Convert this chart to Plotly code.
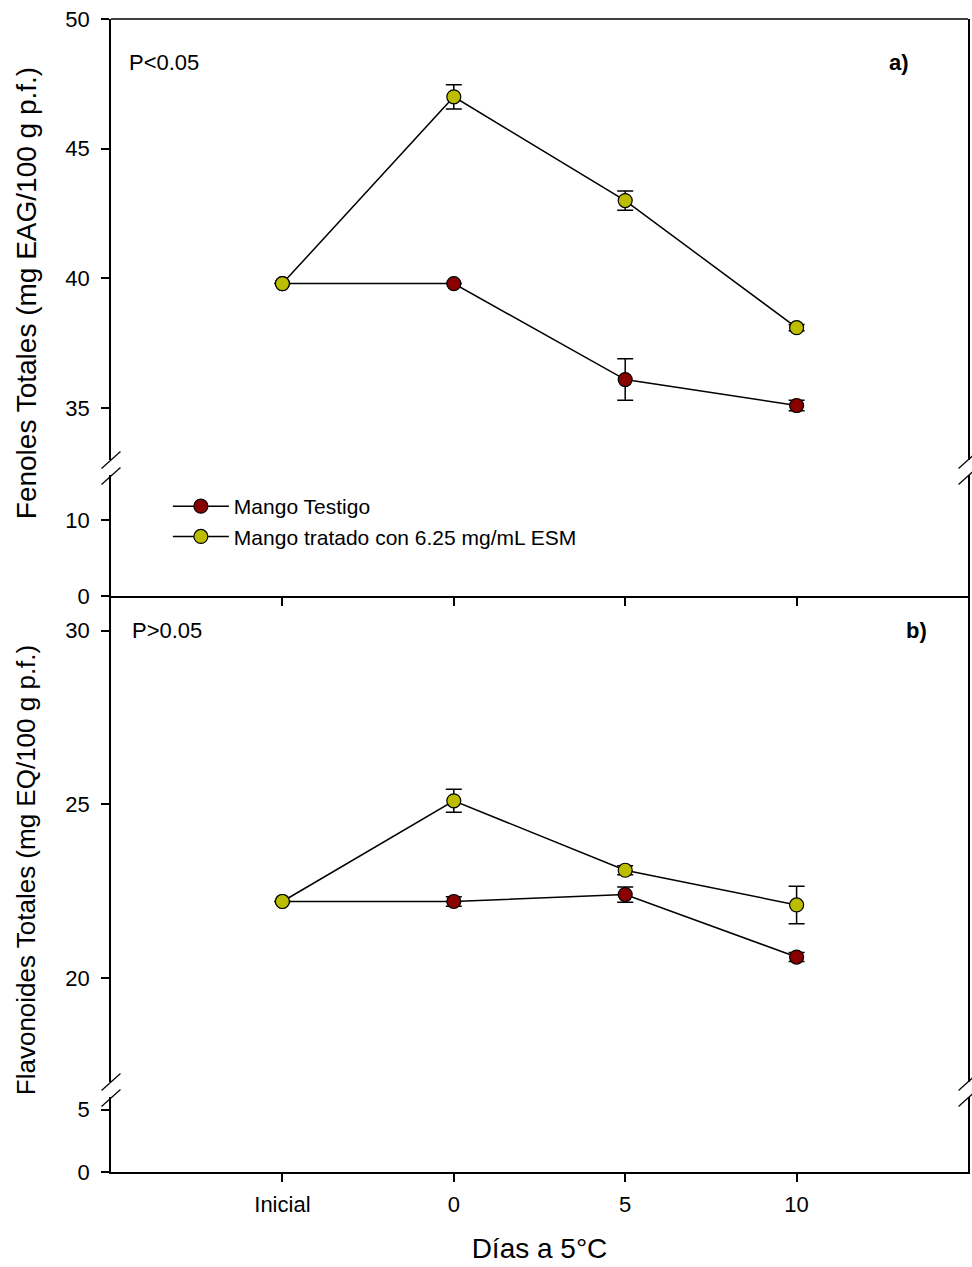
import plotly.graph_objects as go

# Storage days at 5 °C
dias = ["Inicial", "0", "5", "10"]
x_pos = [0, 1, 2, 3]

# Total phenols (mg EAG/100 g p.f.)
fen_testigo = [39.8, 39.8, 36.1, 35.1]
fen_testigo_err = [0.0, 0.0, 0.80, 0.20]
fen_tratado = [39.8, 47.0, 43.0, 38.1]
fen_tratado_err = [0.0, 0.47, 0.37, 0.12]

# Total flavonoids (mg EQ/100 g p.f.)
flav_testigo = [22.2, 22.2, 22.4, 20.6]
flav_testigo_err = [0.0, 0.14, 0.22, 0.13]
flav_tratado = [22.2, 25.1, 23.1, 22.1]
flav_tratado_err = [0.0, 0.33, 0.13, 0.54]

series_names = ["Mango Testigo", "Mango tratado con 6.25 mg/mL ESM"]
series_colors = ["#880000", "#BDBD00"]

FONT = "Arial, Liberation Sans, sans-serif"
W, H = 972, 1267
ML, MR, MT, MB = 111, 2, 19, 95
PW, PH = W - ML - MR, H - MT - MB


def px(x):
    return (x - ML) / PW


def py(y):
    return (H - MB - y) / PH


fig = go.Figure()


def add_series(yvals, errs, name, color, xa, ya, legend):
    fig.add_trace(go.Scatter(
        x=x_pos, y=yvals, xaxis=xa, yaxis=ya,
        mode="lines+markers", name=name, showlegend=legend,
        line=dict(color="black", width=1.5),
        marker=dict(size=14, color=color, line=dict(color="black", width=1.2)),
        error_y=dict(type="data", array=errs, visible=True,
                     color="black", thickness=1.5, width=8),
    ))


# panel a) on x2 with broken y axis (y3 lower, y4 upper)
for ya in ["y3", "y4"]:
    add_series(fen_testigo, fen_testigo_err, series_names[0], series_colors[0], "x2", ya, ya == "y4")
    add_series(fen_tratado, fen_tratado_err, series_names[1], series_colors[1], "x2", ya, ya == "y4")
# panel b) on x with broken y axis (y lower, y2 upper)
for ya in ["y", "y2"]:
    add_series(flav_testigo, flav_testigo_err, series_names[0], series_colors[0], "x", ya, False)
    add_series(flav_tratado, flav_tratado_err, series_names[1], series_colors[1], "x", ya, False)

tickfont = dict(family=FONT, size=22, color="black")
common_x = dict(range=[-1, 4], tickvals=x_pos, ticktext=dias, ticks="outside",
                ticklen=8, tickwidth=1.5, tickcolor="black", showline=True,
                linewidth=1.5, linecolor="black", showgrid=False, zeroline=False,
                tickfont=tickfont, domain=[0, 1], ticklabelstandoff=4)
common_y = dict(ticks="outside", ticklen=8, tickwidth=1.5, tickcolor="black",
                showline=True, mirror=True, linewidth=1.5, linecolor="black",
                showgrid=False, zeroline=False, tickfont=tickfont,
                ticklabelstandoff=7)

y_a_up = [py(460), 1.0]
y_a_lo = [py(596), py(475)]
y_b_up = [py(1082), py(596)]
y_b_lo = [0.0, py(1097)]

fig.update_layout(
    width=W, height=H,
    margin=dict(l=ML, r=MR, t=MT, b=MB),
    plot_bgcolor="white", paper_bgcolor="white",
    font=dict(family=FONT, color="black"),
    xaxis=dict(**common_x, anchor="y",
               title=dict(text="Días a 5°C", font=dict(family=FONT, size=28), standoff=22)),
    xaxis2=dict(**common_x, anchor="y3", matches="x", showticklabels=False),
    yaxis=dict(**common_y, anchor="x", domain=y_b_lo, range=[0, 6], tickvals=[0, 5]),
    yaxis2=dict(**common_y, anchor="x", domain=y_b_up, range=[17, 31], tickvals=[20, 25, 30]),
    yaxis3=dict(**common_y, anchor="x2", domain=y_a_lo, range=[0, 16], tickvals=[0, 10]),
    yaxis4=dict(**common_y, anchor="x2", domain=y_a_up, range=[33, 50], tickvals=[35, 40, 45, 50]),
    legend=dict(x=px(168), y=py(486), xanchor="left", yanchor="top",
                font=dict(family=FONT, size=21, color="black"), itemwidth=56,
                bgcolor="rgba(0,0,0,0)", borderwidth=0, tracegroupgap=0),
    showlegend=True,
)

# top frame line of panel a)
shapes = [dict(type="line", xref="paper", yref="paper", x0=0, x1=1, y0=1, y1=1,
               line=dict(color="black", width=1.5))]

# axis-break marks on both sides of each broken axis
for y_edge in [460, 476, 1082, 1098]:
    for x_edge in [ML, ML + PW]:
        shapes.append(dict(type="line", xref="paper", yref="paper",
                           x0=px(x_edge - 9.5), y0=py(y_edge + 8.5),
                           x1=px(x_edge + 9.5), y1=py(y_edge - 8.5),
                           line=dict(color="black", width=1.2)))
fig.update_layout(shapes=shapes)

annots = [
    dict(text="P<0.05", x=px(127), y=py(62), xanchor="left"),
    dict(text="<b>a)</b>", x=px(901), y=py(62), xanchor="center"),
    dict(text="P>0.05", x=px(130), y=py(630), xanchor="left"),
    dict(text="<b>b)</b>", x=px(918), y=py(630), xanchor="center"),
]
for a in annots:
    fig.add_annotation(xref="paper", yref="paper", yanchor="middle", showarrow=False,
                       font=dict(family=FONT, size=22, color="black"), **a)

# y-axis titles
fig.add_annotation(text="Fenoles Totales (mg EAG/100 g p.f.)", xref="paper", yref="paper",
                   x=px(26), y=py(293), textangle=-90, showarrow=False,
                   xanchor="center", yanchor="middle",
                   font=dict(family=FONT, size=28, color="black"))
fig.add_annotation(text="Flavonoides Totales (mg EQ/100 g p.f.)", xref="paper", yref="paper",
                   x=px(26), y=py(870), textangle=-90, showarrow=False,
                   xanchor="center", yanchor="middle",
                   font=dict(family=FONT, size=26, color="black"))

fig.write_html("out.html")
